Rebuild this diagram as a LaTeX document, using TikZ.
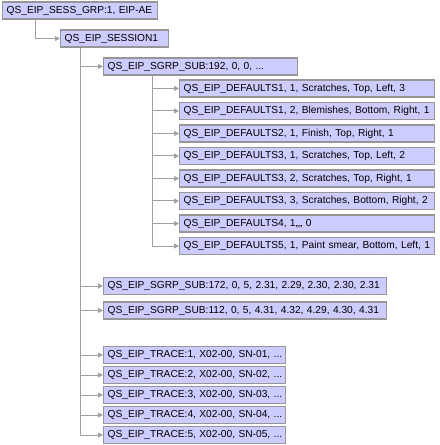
\documentclass[tikz,border=0pt]{standalone}
\usepackage{fontspec}
\setmainfont{Liberation Sans}
\usetikzlibrary{arrows.meta,calc}
\definecolor{boxfill}{RGB}{204,204,255}
\definecolor{boxline}{RGB}{150,150,150}
\definecolor{connline}{RGB}{160,160,160}
\tikzset{
  eipbox/.style={draw=boxline, fill=boxfill, line width=1.2bp, inner xsep=4bp, inner ysep=0bp,
    minimum height=17bp, anchor=west, align=left, font=\fontsize{10.2bp}{12bp}\selectfont},
  conn/.style={draw=connline, line width=1bp, -{Triangle[length=5bp,width=5bp]}}
}
\newcommand{\eipnode}[5]{\node[eipbox, text width=#4bp-8bp] (#1) at (#2,#3) {\mbox{#5}};}
\begin{document}
\begin{tikzpicture}[x=1bp,y=-1bp]
\useasboundingbox (0,0) rectangle (440,445);
\eipnode{grp}{2}{10.5}{155}{QS\_EIP\_SESS\_GRP:1, EIP-AE}
\eipnode{sess}{60}{38.5}{108}{QS\_EIP\_SESSION1}
\eipnode{sgrp}{103}{66.5}{194}{QS\_EIP\_SGRP\_SUB:192, 0, 0, ...}
\eipnode{d1}{179}{88.5}{255}{QS\_EIP\_DEFAULTS1, 1, Scratches, Top, Left, 3}
\eipnode{d2}{179}{111}{255}{QS\_EIP\_DEFAULTS1, 2, Blemishes, Bottom, Right, 1}
\eipnode{d3}{179}{133.5}{255}{QS\_EIP\_DEFAULTS2, 1, Finish, Top, Right, 1}
\eipnode{d4}{179}{156}{255}{QS\_EIP\_DEFAULTS3, 1, Scratches, Top, Left, 2}
\eipnode{d5}{179}{178.5}{255}{QS\_EIP\_DEFAULTS3, 2, Scratches, Top, Right, 1}
\eipnode{d6}{179}{201}{255}{QS\_EIP\_DEFAULTS3, 3, Scratches, Bottom, Right, 2}
\eipnode{d7}{179}{223.5}{255}{QS\_EIP\_DEFAULTS4, 1,,,, 0}
\eipnode{d8}{179}{246}{255}{QS\_EIP\_DEFAULTS5, 1, Paint smear, Bottom, Left, 1}
\eipnode{sub172}{103}{286}{283}{QS\_EIP\_SGRP\_SUB:172, 0, 5, 2.31, 2.29, 2.30, 2.30, 2.31}
\eipnode{sub112}{103}{310.5}{283}{QS\_EIP\_SGRP\_SUB:112, 0, 5, 4.31, 4.32, 4.29, 4.30, 4.31}
\eipnode{tr1}{103}{355}{182}{QS\_EIP\_TRACE:1, X02-00, SN-01, ...}
\eipnode{tr2}{103}{375}{182}{QS\_EIP\_TRACE:2, X02-00, SN-02, ...}
\eipnode{tr3}{103}{395}{182}{QS\_EIP\_TRACE:3, X02-00, SN-03, ...}
\eipnode{tr4}{103}{415}{182}{QS\_EIP\_TRACE:4, X02-00, SN-04, ...}
\eipnode{tr5}{103}{435}{182}{QS\_EIP\_TRACE:5, X02-00, SN-05, ...}
\draw[conn] ($(grp.south west)+(33,0)$) |- (sess.west);
\foreach \t in {sgrp,sub172,sub112,tr1,tr2,tr3,tr4,tr5}
  \draw[conn] ($(sess.south west)+(20,0)$) |- (\t.west);
\foreach \t in {d1,d2,d3,d4,d5,d6,d7,d8}
  \draw[conn] ($(sgrp.south west)+(49,0)$) |- (\t.west);
\end{tikzpicture}
\end{document}
